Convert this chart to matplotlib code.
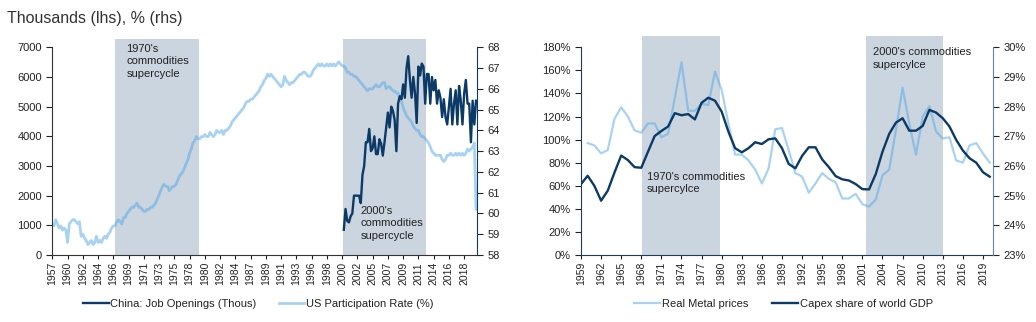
import matplotlib
matplotlib.use("Agg")
import matplotlib.pyplot as plt
from matplotlib import font_manager
import numpy as np

# ---- left chart data -------------------------------------------------------
# US participation rate (%), quarterly from 1957 Q4
us_start = 1957.75
us_participation = [
    59.5,
    59.4, 59.7, 59.5, 59.3,
    59.4, 59.2, 59.3, 59.2,
    58.6, 59.5, 59.6, 59.7,
    59.7, 59.6, 59.5, 59.6,
    58.9, 59.0, 58.8, 58.7,
    58.5, 58.6, 58.7, 58.5,
    58.6, 58.9, 58.6, 58.7,
    58.6, 58.8, 58.9, 58.8,
    59.0, 59.1, 59.3, 59.4,
    59.4, 59.6, 59.7, 59.6,
    59.5, 59.8, 59.8, 60.0,
    60.1, 60.2, 60.3, 60.3,
    60.4, 60.5, 60.3, 60.3,
    60.2, 60.1, 60.1, 60.2,
    60.2, 60.3, 60.3, 60.4,
    60.5, 60.7, 60.9, 61.1,
    61.3, 61.4, 61.3, 61.3,
    61.1, 61.2, 61.3, 61.3,
    61.4, 61.6, 61.8, 61.9,
    62.0, 62.2, 62.4, 62.6,
    62.9, 63.1, 63.4, 63.5,
    63.7, 63.6, 63.6, 63.7,
    63.7, 63.8, 63.7, 63.7,
    63.9, 63.8, 63.7, 63.8,
    64.0, 63.9, 63.9, 64.0,
    63.8, 64.0, 64.0, 64.1,
    64.2, 64.4, 64.5, 64.6,
    64.7, 64.8, 64.9, 65.0,
    65.1, 65.3, 65.4, 65.4,
    65.5, 65.5, 65.6, 65.7,
    65.8, 65.9, 66.1, 66.2,
    66.4, 66.5, 66.7, 66.6,
    66.7, 66.6, 66.5, 66.4,
    66.3, 66.2, 66.1, 66.2,
    66.6, 66.4, 66.3, 66.2,
    66.3, 66.3, 66.4, 66.5,
    66.6, 66.7, 66.7, 66.8,
    66.8, 66.7, 66.6, 66.6,
    66.7, 66.9, 67.0, 67.1,
    67.2, 67.1, 67.2, 67.1,
    67.1, 67.2, 67.1, 67.2,
    67.1, 67.2, 67.1, 67.2,
    67.3, 67.2, 67.1, 67.1,
    67.0, 66.8, 66.8, 66.7,
    66.7, 66.6, 66.6, 66.5,
    66.4, 66.3, 66.2, 66.1,
    66.0, 65.9, 66.0, 66.0,
    66.0, 66.1, 66.2, 66.1,
    66.1, 66.2, 66.3, 66.3,
    66.0, 66.1, 66.1, 66.0,
    65.9, 65.9, 65.8, 65.8,
    65.5, 65.4, 65.1, 64.9,
    64.7, 64.6, 64.5, 64.4,
    64.2, 64.1, 64.0, 64.0,
    63.8, 63.7, 63.7, 63.6,
    63.5, 63.4, 63.2, 63.0,
    62.9, 62.8, 62.8, 62.8,
    62.8, 62.6, 62.5, 62.6,
    62.8, 62.8, 62.9, 62.8,
    62.8, 62.9, 62.8, 62.9,
    62.8, 62.9, 62.8, 62.9,
    63.1, 63.0, 63.1, 63.2,
    63.4, 60.2,
]

# China job openings (thousands), quarterly from 2000 Q4
china_start = 2000.75
china_openings = [
    850,
    1550, 1150, 1100, 1300,
    1400, 2000, 2000, 2000,
    2000, 1750, 2700, 3000,
    3800, 3800, 4250, 3500,
    3600, 4000, 3400, 3400,
    3900, 3750, 3350, 3800,
    4300, 4800, 4300, 5000,
    4850, 4550, 3500, 5100,
    5350, 5250, 5750, 5300,
    6300, 6700, 5900, 5300,
    6000, 5450, 4450, 6350,
    6050, 6450, 6350, 5100,
    6100, 6100, 5100, 6000,
    5550, 5900, 5100, 5550,
    5300, 4650, 5250, 4650,
    4400, 5000, 5600, 4400,
    5100, 5550, 4400, 5700,
    5200, 4400, 5450, 5900,
    5100, 5100, 3800, 5200,
    4400, 5200,
]

left_tick_labels = ["1957", "1960", "1962", "1964", "1966", "1969", "1971",
                    "1973", "1975", "1978", "1980", "1982", "1984", "1987",
                    "1989", "1991", "1993", "1996", "1998", "2000", "2002",
                    "2005", "2007", "2009", "2011", "2014", "2016", "2018"]

# ---- right chart data ------------------------------------------------------
years_r = list(range(1959, 2021))
metal_years = list(range(1960, 2021))
real_metal = [97, 95, 88, 91, 118, 128, 120, 108, 106, 114,
              114, 102, 105, 136, 167, 125, 125, 131, 130, 159,
              143, 114, 87, 87, 82, 74, 62, 75, 109, 110,
              91, 71, 68, 54, 62, 71, 66, 63, 49, 49,
              53, 44, 42, 48, 69, 74, 108, 145, 114, 87,
              120, 129, 107, 101, 102, 82, 80, 95, 97, 88,
              80]
capex_share = [25.39, 25.67, 25.33, 24.83, 25.17, 25.78, 26.35, 26.20, 25.96, 25.94,
               26.48, 27.01, 27.18, 27.33, 27.78, 27.71, 27.75, 27.57, 28.13, 28.30,
               28.20, 27.83, 27.16, 26.60, 26.46, 26.60, 26.80, 26.74, 26.90, 26.93,
               26.60, 26.07, 25.92, 26.34, 26.63, 26.63, 26.22, 25.96, 25.66, 25.55,
               25.51, 25.39, 25.22, 25.21, 25.73, 26.48, 27.08, 27.46, 27.61, 27.19,
               27.19, 27.35, 27.89, 27.80, 27.61, 27.33, 26.88, 26.52, 26.26, 26.11,
               25.79, 25.64]

# ---- style -----------------------------------------------------------------
NAVY = "#0c3a66"
LIGHT = "#53a7e7"
SHADE = "#cbd5df"
TEXT = "#222222"

names = {f.name for f in font_manager.fontManager.ttflist}
plt.rcParams["font.family"] = ["Liberation Sans", "DejaVu Sans"]
title_font = "Liberation Sans Narrow" if "Liberation Sans Narrow" in names else "Liberation Sans"
plt.rcParams["font.size"] = 8
plt.rcParams["text.color"] = TEXT
plt.rcParams["xtick.color"] = TEXT
plt.rcParams["ytick.color"] = TEXT

fig = plt.figure(figsize=(10.36, 3.22), dpi=100)
fig.text(0.007, 0.965, "Thousands (lhs), % (rhs)", fontsize=11.5,
         family=title_font, color="#333333", va="top", ha="left")

# ---- left chart ------------------------------------------------------------
ax1 = fig.add_axes([0.0505, 0.2081, 0.4097, 0.645])
ax1r = ax1.twinx()
ax1.set_zorder(ax1r.get_zorder() + 1)
ax1.patch.set_visible(False)

us_x = us_start + 0.25 * np.arange(len(us_participation))
china_x = china_start + 0.25 * np.arange(len(china_openings))

for a, b in [(1966.95, 1979.4), (2000.7, 2012.9)]:
    ax1r.axvspan(a, b, ymin=0, ymax=1.04, color=SHADE, lw=0, clip_on=False,
                 zorder=1)
l_us, = ax1r.plot(us_x, us_participation, color=LIGHT, alpha=0.5, lw=2.0,
                  zorder=2, label="US Participation Rate (%)")
l_cn, = ax1.plot(china_x, china_openings, color=NAVY, lw=1.7, zorder=3,
                 label="China: Job Openings (Thous)")

ax1.set_xlim(1957.75, 2020.36)
ax1.set_ylim(0, 7000)
ax1.set_yticks(range(0, 7001, 1000))
ax1r.set_ylim(58, 68)
ax1r.set_yticks(range(58, 69))

left_ticks = [1957.75 + 2.25 * k for k in range(len(left_tick_labels))]
ax1.set_xticks(left_ticks)
ax1.set_xticklabels(left_tick_labels, rotation=90)

ax1.text(1968.7, 7120, "1970's\ncommodities\nsupercycle", va="top",
         ha="left", fontsize=8, linespacing=1.3)
ax1.text(2003.2, 1650, "2000's\ncommodities\nsupercycle", va="top",
         ha="left", fontsize=8, linespacing=1.3)

for a in (ax1, ax1r):
    a.spines["top"].set_visible(False)
    a.tick_params(length=4, width=0.8, labelsize=8)
ax1.spines["right"].set_visible(False)
ax1.spines["left"].set_color("#333333")
ax1.spines["bottom"].set_color("#333333")
ax1r.spines["right"].set_color(NAVY)
ax1r.spines["left"].set_visible(False)
ax1r.spines["bottom"].set_visible(False)
ax1.tick_params(axis="x", length=3, pad=2, labelsize=7.5)

ax1.legend([l_cn, l_us], [l_cn.get_label(), l_us.get_label()],
           loc="center", bbox_to_anchor=(0.485, -0.236), ncol=2, frameon=False,
           handlelength=2.3, handletextpad=0.15, columnspacing=2.0,
           fontsize=8)

# ---- right chart -----------------------------------------------------------
ax2 = fig.add_axes([0.5608, 0.2081, 0.3974, 0.645])
ax2r = ax2.twinx()

for a, b in [(1968.15, 1979.75), (2001.5, 2013.1)]:
    ax2.axvspan(a, b, ymin=0, ymax=1.055, color=SHADE, lw=0, clip_on=False,
                zorder=1)
l_metal, = ax2.plot(metal_years, real_metal, color=LIGHT, alpha=0.5, lw=1.6,
                    zorder=2, label="Real Metal prices")
l_capex, = ax2r.plot(years_r, capex_share, color=NAVY, lw=1.7, zorder=3,
                     label="Capex share of world GDP")

ax2.set_xlim(1959, 2020.45)
ax2.set_ylim(0, 180)
ax2.set_yticks(range(0, 181, 20))
ax2.set_yticklabels([f"{v}%" for v in range(0, 181, 20)])
ax2r.set_ylim(23, 30)
ax2r.set_yticks(range(23, 31))
ax2r.set_yticklabels([f"{v}%" for v in range(23, 31)])
ax2.set_xticks(years_r[::3])
ax2.set_xticklabels([str(y) for y in years_r[::3]], rotation=90)

ax2.text(1968.8, 72, "1970's commodities\nsupercylce", va="top", ha="left",
         fontsize=8, linespacing=1.3)
ax2.text(2002.6, 180, "2000's commodities\nsupercylce", va="top", ha="left",
         fontsize=8, linespacing=1.3)

for a in (ax2, ax2r):
    a.spines["top"].set_visible(False)
    a.tick_params(length=4, width=0.8, labelsize=8)
ax2.spines["right"].set_visible(False)
ax2.spines["left"].set_color("#1f3b5c")
ax2.spines["bottom"].set_color("#1f3b5c")
ax2r.spines["right"].set_color("#5f84ad")
ax2r.spines["left"].set_visible(False)
ax2r.spines["bottom"].set_visible(False)
ax2.tick_params(axis="x", length=3, pad=2, labelsize=7.5)

ax2.legend([l_metal, l_capex], [l_metal.get_label(), l_capex.get_label()],
           loc="center", bbox_to_anchor=(0.492, -0.236), ncol=2, frameon=False,
           handlelength=2.3, handletextpad=0.15, columnspacing=2.2,
           fontsize=8)

fig.savefig("out.png", dpi=100)
